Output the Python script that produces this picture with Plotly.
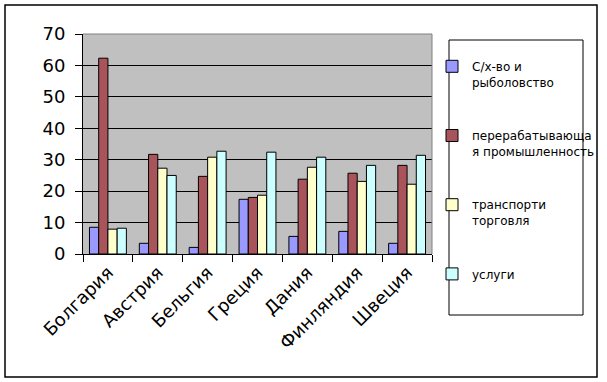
import plotly.graph_objects as go

categories = ["Болгария", "Австрия", "Бельгия", "Греция", "Дания", "Финляндия", "Швеция"]
series_names = ["С/х-во и<br>рыболовство", "перерабатывающа<br>я промышленность", "транспорти<br>торговля", "услуги"]
agri = [8.5, 3.4, 2.1, 17.4, 5.6, 7.2, 3.4]
industry = [62.3, 31.7, 24.7, 18.0, 23.8, 25.7, 28.2]
transport = [7.9, 27.3, 30.8, 18.7, 27.6, 23.1, 22.2]
services = [8.2, 25.0, 32.7, 32.4, 30.8, 28.2, 31.4]
y_ticks = [0, 10, 20, 30, 40, 50, 60, 70]

colors = ["#9999FF", "#A9545A", "#FFFFCC", "#CCFFFF"]
values = [agri, industry, transport, services]

fig = go.Figure()
for i, (name, vals) in enumerate(zip(series_names, values)):
    fig.add_trace(go.Bar(
        x=categories, y=vals, name=name,
        marker=dict(color=colors[i], line=dict(color="black", width=1)),
        legendgroup=f"g{i}",
    ))

# pixel geometry helpers (plot area 83..432 x 34..254)
L, R, T, B = 83, 432, 34, 254
W, H = R - L, B - T
def px(x): return (x - L) / W
def py(y): return (B - y) / H

font_main = "DejaVu Sans"

fig.update_layout(
    width=607, height=382,
    margin=dict(l=L, r=607 - R, t=T, b=382 - B, autoexpand=False),
    paper_bgcolor="white", plot_bgcolor="#C0C0C0",
    barmode="group", bargap=0.26, bargroupgap=0,
    showlegend=True,
    legend=dict(
        x=px(432), y=py(52), xanchor="left", yanchor="top",
        font=dict(family=font_main, size=12, color="black"),
        traceorder="grouped", tracegroupgap=35, valign="top",
        bgcolor="rgba(0,0,0,0)", borderwidth=0, itemwidth=30,
        maxheight=380,
    ),
    xaxis=dict(
        type="category", showline=True, linecolor="black", linewidth=1,
        ticks="outside", ticklen=7, tickcolor="black", tickson="boundaries",
        tickangle=-45, tickfont=dict(family=font_main, size=18, color="black"),
        showgrid=False, mirror=False,
    ),
    yaxis=dict(
        range=[0, 70], tickvals=y_ticks, showline=True, linecolor="black", linewidth=1,
        ticks="outside", ticklen=7, tickcolor="black",
        tickfont=dict(family=font_main, size=18, color="black"),
        showgrid=True, gridcolor="black", gridwidth=1, zeroline=False,
        ticklabelstandoff=6,
    ),
    shapes=[
        dict(type="line", xref="paper", yref="paper", x0=0, x1=1, y0=1, y1=1,
             line=dict(color="#808080", width=1)),
        dict(type="line", xref="paper", yref="paper", x0=1, x1=1, y0=0, y1=1,
             line=dict(color="#808080", width=1)),
        dict(type="rect", xref="paper", yref="paper", x0=px(449), x1=px(583),
             y0=py(315), y1=py(40), line=dict(color="black", width=1)),
        dict(type="rect", xref="paper", yref="paper", x0=px(5), x1=px(597),
             y0=py(377), y1=py(5), line=dict(color="black", width=1.5)),
    ],
)

fig.write_html(
    "out.html",
    config={"displayModeBar": False},
    post_script="document.body.style.margin='0';document.body.style.padding='0';",
)
